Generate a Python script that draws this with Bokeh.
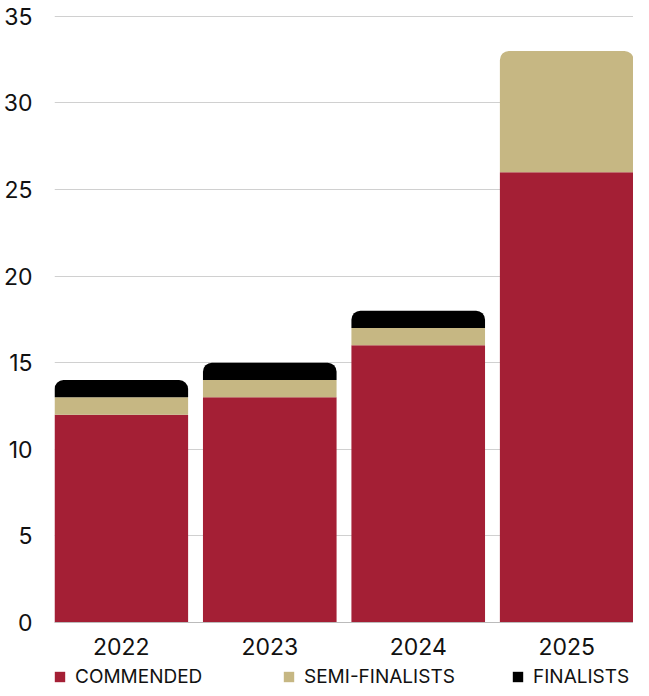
from bokeh.plotting import figure
from bokeh.layouts import column
from bokeh.models import ColumnDataSource, Range1d, FixedTicker, Legend, LegendItem
from bokeh.embed import file_html
from bokeh.resources import INLINE

years = ["2022", "2023", "2024", "2025"]
commended = [12, 13, 16, 26]
semi_finalists = [1, 1, 1, 7]
finalists = [1, 1, 1, 0]
series_names = ["COMMENDED", "SEMI-FINALISTS", "FINALISTS"]

C_COM = "#A41F35"
C_SEMI = "#C6B783"
C_FIN = "#000000"
colors = [C_COM, C_SEMI, C_FIN]
FONT = "Inter"
W = 0.9
R = 9

idx = list(range(len(years)))
base_semi = commended
top_semi = [c + s for c, s in zip(commended, semi_finalists)]
top_fin = [t + f for t, f in zip(top_semi, finalists)]

p = figure(width=633, height=662, output_backend="svg", toolbar_location=None,
           x_range=Range1d(-0.45, 3.45), y_range=Range1d(0, 35.1))
p.min_border_left = 47
p.min_border_right = 0
p.min_border_top = 14
p.min_border_bottom = 40
p.outline_line_color = None
p.background_fill_color = "white"

# commended
src_c = ColumnDataSource(dict(x=idx, top=commended, bottom=[0] * len(idx)))
p.vbar(x="x", top="top", bottom="bottom", width=W, source=src_c,
       fill_color=C_COM, line_color=None)

# semi-finalists (rounded when it's the top segment)
sel_a = [i for i in idx if finalists[i] > 0]
sel_b = [i for i in idx if finalists[i] == 0]
src_sa = ColumnDataSource(dict(x=[idx[i] for i in sel_a], top=[top_semi[i] for i in sel_a],
                               bottom=[base_semi[i] for i in sel_a]))
src_sb = ColumnDataSource(dict(x=[idx[i] for i in sel_b], top=[top_semi[i] for i in sel_b],
                               bottom=[base_semi[i] for i in sel_b]))
p.vbar(x="x", top="top", bottom="bottom", width=W, source=src_sa,
       fill_color=C_SEMI, line_color=None)
p.vbar(x="x", top="top", bottom="bottom", width=W, source=src_sb,
       fill_color=C_SEMI, line_color=None, border_radius=(R, R, 0, 0))

# finalists
src_f = ColumnDataSource(dict(x=[idx[i] for i in sel_a], top=[top_fin[i] for i in sel_a],
                              bottom=[top_semi[i] for i in sel_a]))
p.vbar(x="x", top="top", bottom="bottom", width=W, source=src_f,
       fill_color=C_FIN, line_color=None, border_radius=(R, R, 0, 0))

# axes
p.xaxis.ticker = FixedTicker(ticks=idx)
p.xaxis.major_label_overrides = {i: y for i, y in zip(idx, years)}
p.xaxis.major_tick_line_color = None
p.xaxis.minor_tick_line_color = None
p.xaxis.axis_line_color = "#BBBBBB"
p.xaxis.major_label_text_font = FONT
p.xaxis.major_label_text_font_size = "23px"
p.xaxis.major_label_text_color = "#111111"
p.xaxis.major_label_standoff = 9

p.yaxis.ticker = FixedTicker(ticks=[0, 5, 10, 15, 20, 25, 30, 35])
p.yaxis.axis_line_color = None
p.yaxis.major_tick_line_color = None
p.yaxis.minor_tick_line_color = None
p.yaxis.major_label_text_font = FONT
p.yaxis.major_label_text_font_size = "23px"
p.yaxis.major_label_text_color = "#111111"
p.yaxis.major_label_standoff = 16

p.xgrid.grid_line_color = None
p.ygrid.grid_line_color = "#D0D0D0"
p.ygrid.grid_line_width = 1

# legend figure (swatch renderers sit outside the visible range)
lf = figure(width=633, height=26, output_backend="svg", toolbar_location=None,
            x_range=Range1d(0, 1), y_range=Range1d(0, 1))
lf.axis.visible = False
lf.grid.visible = False
lf.outline_line_color = None
lf.min_border = 0
items = []
for name, col in zip(series_names, colors):
    r = lf.vbar(x=[-10], top=[-10], bottom=[-11], width=0.1, fill_color=col, line_color=None)
    items.append(LegendItem(label=name, renderers=[r]))
leg = Legend(items=items, orientation="horizontal", location=(-1, 0),
             glyph_width=13, glyph_height=13, label_standoff=9,
             label_width=207, spacing=0, padding=0, margin=0,
             border_line_color=None, background_fill_alpha=0,
             label_text_font=FONT, label_text_font_size="19px",
             label_text_color="#111111", label_height=13,
             label_text_baseline="middle")
lf.add_layout(leg, "center")

layout = column(p, lf, spacing=0)
open("out.html", "w").write(file_html(layout, INLINE))
